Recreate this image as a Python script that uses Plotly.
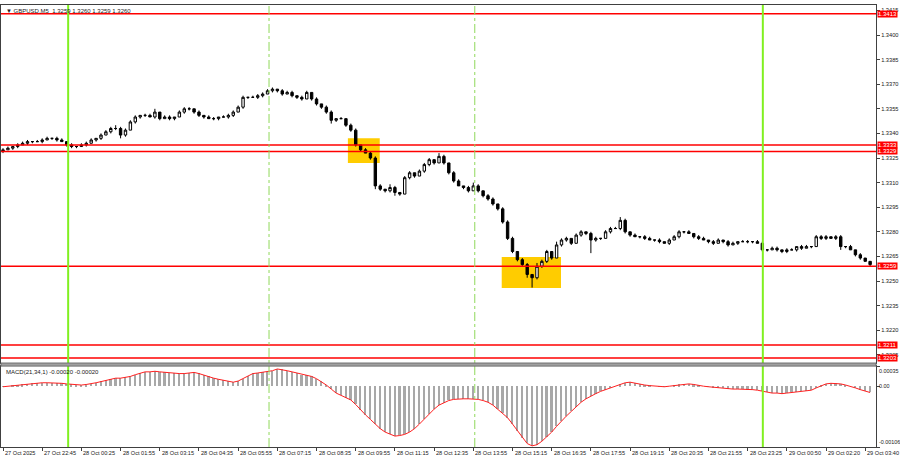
import plotly.graph_objects as go

# GBPUSD M5 - prices stored in pips above 1.3000
closes = [330, 331, 332, 333, 334, 335, 335, 335, 336, 337,
          337, 336, 335, 333, 332, 332, 333, 334, 336, 337,
          339, 341, 343, 343, 339, 342, 347, 350, 351, 351,
          350, 353, 349, 350, 349, 350, 353, 355, 355, 353,
          351, 350, 349, 349, 350, 350, 351, 353, 356, 362,
          362, 362, 363, 364, 366, 367, 366, 364, 365, 363,
          362, 361, 365, 361, 358, 356, 353, 348, 349, 349,
          345, 342, 333, 330, 328, 325, 308, 306, 305, 307,
          304, 303, 313, 316, 314, 317, 321, 324, 322, 326,
          322, 316, 311, 308, 307, 305, 308, 305, 302, 300,
          297, 294, 286, 276, 268, 263, 260, 254, 252, 259,
          262, 268, 264, 272, 275, 276, 273, 278, 280, 279,
          275, 276, 276, 280, 282, 282, 287, 280, 278, 277,
          277, 276, 275, 275, 274, 273, 275, 277, 280, 280,
          279, 277, 276, 275, 274, 273, 275, 274, 272, 273,
          274, 274, 274, 274, 273, 269, 269, 270, 269, 268,
          269, 269, 271, 270, 271, 271, 277, 276, 277, 276,
          277, 271, 271, 269, 266, 264, 262, 260]
first_open = 329

upper_wicks = [1, 1, 0, 1, 1, 1, 0, 1, 1, 1,
               0, 1, 1, 0, 1, 0, 1, 1, 1, 0,
               1, 1, 1, 2, 1, 1, 1, 1, 0, 1,
               1, 2, 0, 1, 1, 0, 1, 1, 1, 0,
               1, 0, 1, 1, 0, 1, 1, 1, 1, 1,
               0, 1, 1, 1, 1, 1, 0, 1, 1, 1,
               0, 1, 1, 0, 1, 0, 1, 1, 0, 1,
               0, 1, 1, 0, 1, 1, 1, 1, 0, 2,
               1, 0, 1, 1, 0, 1, 1, 1, 0, 2,
               1, 0, 1, 1, 0, 1, 2, 1, 0, 1,
               1, 0, 1, 1, 1, 0, 1, 1, 0, 2,
               1, 1, 0, 2, 1, 1, 0, 1, 1, 0,
               1, 1, 0, 1, 1, 1, 2, 1, 0, 1,
               0, 1, 1, 0, 1, 0, 1, 1, 1, 0,
               1, 0, 1, 1, 0, 1, 1, 0, 1, 1,
               0, 1, 1, 0, 1, 1, 0, 1, 1, 0,
               1, 1, 0, 1, 1, 0, 1, 1, 1, 0,
               1, 1, 0, 1, 0, 1, 0, 0]
lower_wicks = [1, 0, 1, 1, 0, 1, 1, 0, 1, 0,
               1, 1, 0, 1, 1, 1, 0, 1, 0, 1,
               1, 0, 1, 1, 2, 1, 0, 1, 1, 1,
               0, 1, 1, 0, 1, 1, 0, 1, 1, 1,
               1, 1, 0, 1, 1, 0, 1, 1, 0, 1,
               1, 0, 1, 1, 0, 1, 1, 1, 0, 1,
               1, 1, 0, 1, 1, 1, 1, 2, 1, 0,
               1, 1, 1, 1, 0, 1, 2, 1, 1, 1,
               2, 1, 0, 1, 1, 0, 1, 1, 1, 0,
               1, 1, 1, 0, 1, 1, 0, 1, 1, 1,
               1, 1, 1, 1, 1, 1, 1, 2, 6, 1,
               1, 1, 1, 0, 1, 1, 1, 0, 1, 1,
               8, 1, 1, 0, 1, 0, 1, 1, 1, 0,
               1, 1, 0, 1, 1, 0, 1, 0, 1, 1,
               0, 1, 1, 0, 1, 1, 0, 1, 1, 0,
               1, 0, 1, 1, 0, 1, 1, 0, 1, 1,
               1, 0, 1, 1, 0, 1, 0, 1, 1, 0,
               1, 2, 1, 0, 1, 1, 0, 1]

# MACD(21,34,1) in units of 0.00001
macd_vals = [-1, 0, 1, 2, 3, 4, 5, 6, 6, 6,
             6, 6, 5, 4, 3, 2, 2, 3, 4, 6,
             8, 10, 12, 14, 14, 15, 17, 20, 23, 25,
             25, 26, 25, 24, 23, 22, 22, 22, 23, 24,
             22, 19, 17, 14, 12, 10, 8, 7, 9, 13,
             18, 22, 23, 24, 25, 27, 30, 29, 27, 25,
             23, 20, 19, 17, 13, 8, 2, -5, -12, -16,
             -20, -24, -32, -42, -50, -58, -66, -74, -80, -84,
             -87, -86, -84, -80, -74, -66, -57, -48, -40, -33,
             -29, -25, -23, -22, -22, -22, -22, -23, -25, -28,
             -33, -40, -47, -55, -66, -78, -90, -100, -104, -102,
             -96, -88, -80, -70, -60, -52, -44, -36, -28, -22,
             -17, -13, -9, -6, -3, 0, 3, 6, 7, 5,
             3, 2, 1, 0, -1, -1, 0, 1, 3, 4,
             4, 3, 1, 0, -1, -2, -3, -4, -5, -5,
             -5, -5, -6, -6, -7, -9, -11, -12, -12, -13,
             -12, -11, -10, -9, -9, -7, -3, 1, 4, 5,
             5, 4, 2, 0, -3, -6, -9, -11]

time_labels = ["27 Oct 2025", "27 Oct 22:45", "28 Oct 00:25", "28 Oct 01:55",
               "28 Oct 03:15", "28 Oct 04:35", "28 Oct 05:55", "28 Oct 07:15",
               "28 Oct 08:35", "28 Oct 09:55", "28 Oct 11:15", "28 Oct 12:35",
               "28 Oct 13:55", "28 Oct 15:15", "28 Oct 16:35", "28 Oct 17:55",
               "28 Oct 19:15", "28 Oct 20:35", "28 Oct 21:55", "28 Oct 23:25",
               "29 Oct 00:50", "29 Oct 02:20", "29 Oct 03:40"]
bars_per_label = 8

price_ticks = [1.3205, 1.3220, 1.3235, 1.3250, 1.3265, 1.3280, 1.3295, 1.3310,
               1.3325, 1.3340, 1.3355, 1.3370, 1.3385, 1.3400, 1.3415]
levels = [1.3413, 1.3333, 1.3329, 1.3259, 1.3211, 1.3203]
session_lines = [13.3, 155.1]      # bar index of session start markers
day_lines = [54.3, 96.3]           # dotted markers
signal_boxes = [(70.4, 76.9, 1.3322, 1.3337), (101.8, 113.9, 1.32457, 1.32646)]

# build OHLC
opens = [first_open] + closes[:-1]
bars = list(range(len(closes)))
to_price = lambda p: 1.3 + p / 10000.0
o = [to_price(v) for v in opens]
c = [to_price(v) for v in closes]
h = [to_price(max(a, b) + u) for a, b, u in zip(opens, closes, upper_wicks)]
l = [to_price(min(a, b) - d) for a, b, d in zip(opens, closes, lower_wicks)]
macd = [v / 100000.0 for v in macd_vals]

FONT = "Liberation Sans"
xr = [-0.41, 178.2]

fig = go.Figure()

fig.add_trace(go.Candlestick(
    x=bars, open=o, high=h, low=l, close=c,
    increasing=dict(line=dict(color="black", width=1), fillcolor="white"),
    decreasing=dict(line=dict(color="black", width=1), fillcolor="black"),
    whiskerwidth=0, showlegend=False, hoverinfo="skip",
    xaxis="x", yaxis="y"))

fig.add_trace(go.Bar(
    x=bars, y=macd, width=0.35, marker=dict(color="#a8a8a8", line=dict(width=0)),
    showlegend=False, xaxis="x2", yaxis="y2"))

fig.add_trace(go.Scatter(
    x=bars, y=macd, mode="lines", line=dict(color="#ff2020", width=1),
    showlegend=False, xaxis="x2", yaxis="y2"))

shapes = []
# yellow signal boxes
for x0, x1, y0, y1 in signal_boxes:
    shapes.append(dict(type="rect", xref="x", yref="y", x0=x0, x1=x1, y0=y0, y1=y1,
                       fillcolor="#ffcc00", line=dict(width=0), layer="below"))
# horizontal levels
for lv in levels:
    shapes.append(dict(type="line", xref="paper", yref="y", x0=0, x1=1, y0=lv, y1=lv,
                       line=dict(color="#ff0000", width=1.5)))
# vertical markers through both panes
for xv in session_lines:
    shapes.append(dict(type="line", xref="x", yref="paper", x0=xv, x1=xv, y0=0, y1=1,
                       line=dict(color="#80f020", width=2)))
for xv in day_lines:
    shapes.append(dict(type="line", xref="x", yref="paper", x0=xv, x1=xv, y0=0, y1=1,
                       line=dict(color="#8fd85a", width=1, dash="dashdot")))
# separator between panes
shapes.append(dict(type="rect", xref="paper", yref="paper", x0=0, x1=1, y0=0.183, y1=0.190,
                   fillcolor="#a0a0a0", line=dict(color="#707070", width=1)))

annotations = []
annotations.append(dict(xref="paper", yref="paper", x=0, y=1, xanchor="left", yanchor="top",
                        xshift=3, yshift=-1, showarrow=False,
                        text="\u25bc GBPUSD,M5  1.3259 1.3260 1.3259 1.3260",
                        font=dict(family=FONT, size=6, color="#202020")))
annotations.append(dict(xref="paper", yref="paper", x=0, y=0.183, xanchor="left", yanchor="top",
                        xshift=3, yshift=-1, showarrow=False,
                        text="MACD(21,34,1) -0.00020 -0.00020",
                        font=dict(family=FONT, size=6, color="#202020")))
for lv in levels:
    annotations.append(dict(xref="paper", yref="y", x=1, y=lv, xanchor="left", yanchor="middle",
                            xshift=1, showarrow=False, text="%.4f" % lv, bgcolor="#ff0000",
                            borderpad=0, font=dict(family=FONT, size=6, color="white")))
for k, lab in enumerate(time_labels):
    annotations.append(dict(xref="x2", yref="paper", x=k * bars_per_label, y=0,
                            xanchor="left", yanchor="top", xshift=0, yshift=-1,
                            showarrow=False, text=lab,
                            font=dict(family=FONT, size=5.6, color="#202020")))
for val, txt, anc in [(0.00035, "0.00035", "top"), (0.0, "0.00", "middle"), (-0.00106, "-0.00106", "bottom")]:
    annotations.append(dict(xref="paper", yref="y2", x=1, y=val, xanchor="left", yanchor=anc,
                            xshift=1, showarrow=False, text=txt,
                            font=dict(family=FONT, size=5.4, color="#202020")))

fig.update_layout(
    width=900, height=460,
    margin=dict(l=1, r=24, t=5, b=13, autoexpand=False),
    paper_bgcolor="white", plot_bgcolor="white",
    font=dict(family=FONT, size=6, color="#202020"),
    bargap=0,
    xaxis=dict(domain=[0, 1], range=xr, anchor="y", showticklabels=False, showgrid=False,
               zeroline=False, showline=True, mirror=True, linecolor="#404040", linewidth=1,
               rangeslider=dict(visible=False), ticks="", automargin=False),
    yaxis=dict(domain=[0.190, 1], range=[1.3200, 1.34183], anchor="x", side="right",
               tickvals=price_ticks, ticktext=["%.4f" % t for t in price_ticks],
               ticks="outside", ticklen=3, tickcolor="#404040", automargin=False,
               tickfont=dict(family=FONT, size=5.7, color="#202020"),
               showgrid=False, zeroline=False, showline=True, mirror=True,
               linecolor="#404040", linewidth=1),
    xaxis2=dict(domain=[0, 1], range=xr, anchor="y2", automargin=False,
                tickvals=[k * bars_per_label for k in range(len(time_labels))],
                showticklabels=False, ticks="outside", ticklen=3, tickcolor="#404040",
                showgrid=False, zeroline=False, showline=True, mirror=True,
                linecolor="#404040", linewidth=1),
    yaxis2=dict(domain=[0, 0.183], range=[-0.00106, 0.00035], anchor="x2", side="right",
                tickvals=[0.00035, 0.0, -0.00106], showticklabels=False, automargin=False,
                ticks="outside", ticklen=3, tickcolor="#404040",
                showgrid=False, zeroline=False, showline=True, mirror=True,
                linecolor="#404040", linewidth=1),
    shapes=shapes,
    annotations=annotations,
)

# the page body has a default 8px margin; drop it so the figure fills the window
fig.write_html("out.html", config={"displayModeBar": False},
               post_script="document.body.style.margin='0';")
